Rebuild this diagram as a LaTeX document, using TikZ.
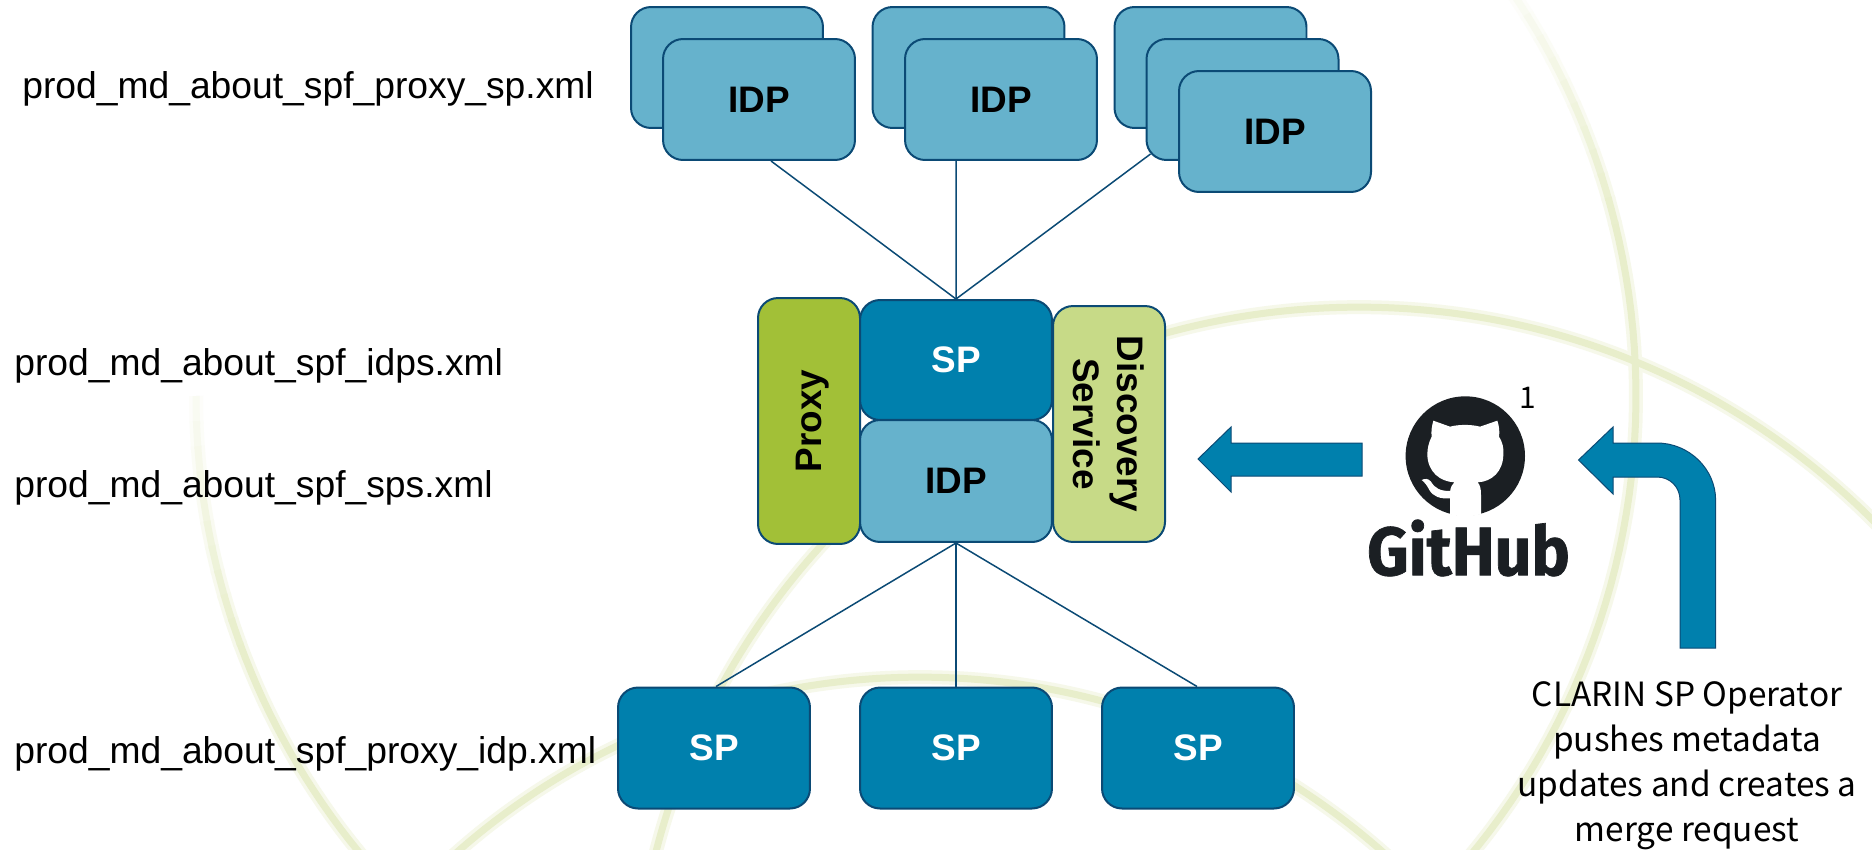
\documentclass[tikz,border=0pt]{standalone}
\usepackage{fontspec}
\setmainfont{Liberation Sans}
\newfontfamily\notefont{Noto Sans CJK SC}
\newfontfamily\hubfont[FakeStretch=.94,FakeBold=1]{Fira Sans}
\definecolor{idpblue}{HTML}{66B2CC}
\definecolor{spblue}{HTML}{0080AD}
\definecolor{edgeblue}{HTML}{0B4A75}
\definecolor{proxygreen}{HTML}{A2C037}
\definecolor{discogreen}{HTML}{C7DA87}
\definecolor{logodark}{HTML}{1B1F23}
\definecolor{arcgreen}{HTML}{E8EECB}
\definecolor{archalo}{HTML}{F6F8EA}
\tikzset{
  box/.style={draw=edgeblue,line width=.4mm,rounded corners=.4cm,inner sep=0pt,
    font=\fontsize{21}{24.5}\selectfont\bfseries},
  idpbox/.style={box,fill=idpblue,minimum width=3.84cm,minimum height=2.42cm},
  spbox/.style={box,fill=spblue,text=white,minimum width=3.84cm,minimum height=2.42cm},
  link/.style={draw=edgeblue,line width=.3mm},
  filename/.style={anchor=west,inner sep=0pt,font=\fontsize{21.2}{24}\selectfont},
  blockarrow/.style={fill=spblue,draw=edgeblue,line width=.2mm},
  arcband/.style={line width=.14cm,color=arcgreen},
  archaze/.style={line width=.28cm,color=archalo}
}
\begin{document}
\begin{tikzpicture}[x=.02cm,y=-.02cm]
  \useasboundingbox (0,0) rectangle (1872,849);
  \fill[white] (0,0) rectangle (1872,849);
  \begin{scope}
    \clip (0,0) rectangle (1872,849);
    \draw[archaze] (1359,1033) circle (14.52cm);
    \draw[archaze] (920,1377) circle (14cm);
    \draw[archaze] plot[domain=-14:43,samples=40] ({916+720*cos(\x)},{396+720*sin(\x)});
    \draw[archaze] plot[domain=125:160,samples=30] ({916+720*cos(\x)},{396+720*sin(\x)});
    \foreach \a in {0,...,9} {
      \pgfmathtruncatemacro\p{25+8*\a}
      \draw[archaze,color=archalo!\p!white] plot[domain=-34+2*\a:-32+2*\a+.2,samples=4] ({916+720*cos(\x)},{396+720*sin(\x)});
      \draw[archaze,color=archalo!\p!white] plot[domain=180-2*\a:178-2*\a-.2,samples=4] ({916+720*cos(\x)},{396+720*sin(\x)});
    }
    \draw[arcband] (1359,1033) circle (14.52cm);
    \draw[arcband] (920,1377) circle (14cm);
    \draw[arcband] plot[domain=-14:43,samples=40] ({916+720*cos(\x)},{396+720*sin(\x)});
    \draw[arcband] plot[domain=125:160,samples=30] ({916+720*cos(\x)},{396+720*sin(\x)});
    \foreach \a in {0,...,9} {
      \pgfmathtruncatemacro\p{25+8*\a}
      \draw[arcband,color=arcgreen!\p!white] plot[domain=-34+2*\a:-32+2*\a+.2,samples=4] ({916+720*cos(\x)},{396+720*sin(\x)});
      \draw[arcband,color=arcgreen!\p!white] plot[domain=180-2*\a:178-2*\a-.2,samples=4] ({916+720*cos(\x)},{396+720*sin(\x)});
    }
  \end{scope}

  \node[idpbox] (idpaback) at (727,67.5) {};
  \node[idpbox] (idpafront) at (759,99.5) {IDP};
  \node[idpbox] (idpbback) at (968.5,67.5) {};
  \node[idpbox] (idpbfront) at (1001,99.5) {IDP};
  \node[idpbox] (idpcback) at (1210.5,67.5) {};
  \node[idpbox] (idpcmid) at (1242.5,99.5) {};
  \node[idpbox] (idpcfront) at (1275,131.5) {IDP};

  \node[box,fill=proxygreen,minimum width=2.04cm,minimum height=4.92cm] (proxy) at (809,421) {\hspace*{4pt}\rotatebox{90}{Proxy}};
  \node[spbox,minimum height=2.4cm] (spmid) at (956,360) {SP};
  \node[idpbox,minimum height=2.44cm] (idpmid) at (956,481) {IDP};
  \node[box,fill=discogreen,minimum width=2.24cm,minimum height=4.72cm] (disco) at (1109,424) {\rotatebox{-90}{\begin{tabular}{@{}c@{}}Discovery\\[.5pt]Service\end{tabular}}\hspace*{6pt}};

  \node[spbox] (spa) at (714,748) {SP};
  \node[spbox] (spb) at (956,748) {SP};
  \node[spbox] (spc) at (1198,748) {SP};

  \draw[link] (spmid.north) -- ([xshift=.24cm]idpafront.south);
  \draw[link] (spmid.north) -- ([xshift=-.9cm]idpbfront.south);
  \draw[link] (spmid.north) -- ([shift={(.1cm,.14cm)}]idpcmid.south west);
  \draw[link] (idpmid.south) -- ([xshift=.04cm]spa.north);
  \draw[link] (idpmid.south) -- (spb.north);
  \draw[link] (idpmid.south) -- ([xshift=-.02cm]spc.north);

  \node[filename] (mdproxysp) at (22,89) {prod\_md\_about\_spf\_proxy\_sp.xml};
  \node[filename] (mdidps) at (14,365.5) {prod\_md\_about\_spf\_idps.xml};
  \node[filename] (mdsps) at (14,487.5) {prod\_md\_about\_spf\_sps.xml};
  \node[filename] (mdproxyidp) at (14,753.5) {prod\_md\_about\_spf\_proxy\_idp.xml};

  \draw[blockarrow] (1198,459) -- (1231,427) -- (1231,443) -- (1362,443) -- (1362,476) -- (1231,476) -- (1231,492) -- cycle;
  \draw[blockarrow] (1578.5,460) -- (1613,427) -- (1613,443) -- (1657,443) .. controls (1689,443) and (1715.6,469) .. (1715.6,500) -- (1715.6,648) -- (1680,648) -- (1680,500) .. controls (1680,487) and (1670,477) .. (1657,477) -- (1613,477) -- (1613,494) -- cycle;

  \fill[logodark] (1465.3,456) circle (1.194cm);
  \begin{scope}[shift={(1395,385)},x=.00667cm,y=-.00667cm]
    \clip (210,213) circle (181);
    \fill[white] (115,107) -- (165,125) .. controls (190,118) and (230,118) .. (255,125) -- (307,107) .. controls (313,125) and (314,140) .. (312,155) .. controls (322,170) and (327,190) .. (325,207) .. controls (325,260) and (290,290) .. (248,292) .. controls (255,300) and (258,310) .. (258,330) -- (258,395) -- (165,395) -- (165,320) .. controls (167,305) and (172,298) .. (178,292) .. controls (135,290) and (97,260) .. (97,207) .. controls (97,190) and (102,170) .. (110,155) .. controls (108,140) and (110,125) .. (115,107) -- cycle;
    \fill[white] (80,285) .. controls (90,280) and (100,280) .. (108,290) .. controls (120,310) and (135,318) .. (165,318) -- (165,340) .. controls (135,342) and (115,335) .. (103,315) .. controls (97,303) and (90,293) .. (80,285) -- cycle;
  \end{scope}
  \node[inner sep=0pt,text=logodark,font=\hubfont\fontsize{39}{39}\selectfont\bfseries] (github) at (1468.5,548) {GitHub};
  \node[inner sep=0pt,font=\notefont\fontsize{17}{17}\selectfont] (footmark) at (1528,398) {1};
  \node[inner sep=0pt,align=center,font=\notefont\fontsize{19}{25.6}\selectfont] (operator) at (1687,766) {CLARIN SP Operator\\pushes metadata\\updates and creates a\\merge request};
\end{tikzpicture}
\end{document}
